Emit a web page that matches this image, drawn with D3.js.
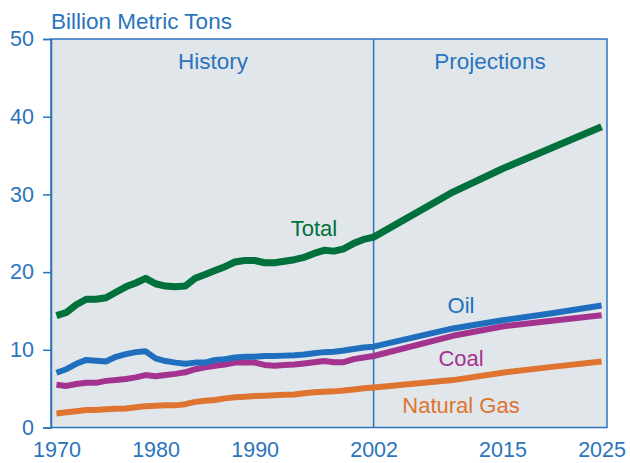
<!DOCTYPE html>
<html>
<head>
<meta charset="utf-8">
<script src="https://cdn.jsdelivr.net/npm/d3@7"></script>
<style>
  body { margin: 0; background: #fff; }
  text { font-family: "Liberation Sans", Arial, sans-serif; }
</style>
</head>
<body>
<script>
var years = [1970,1971,1972,1973,1974,1975,1976,1977,1978,1979,1980,1981,1982,1983,1984,1985,
             1986,1987,1988,1989,1990,1991,1992,1993,1994,1995,1996,1997,1998,1999,2000,2001,2002,
             2010,2015,2020,2025];

var total = [14.4,14.8,15.8,16.5,16.5,16.7,17.4,18.1,18.6,19.2,18.5,18.2,18.1,18.2,19.2,19.7,
             20.2,20.7,21.3,21.5,21.5,21.2,21.2,21.4,21.6,21.9,22.4,22.8,22.7,23.0,23.7,24.2,24.5,
             30.3,33.3,36.0,38.7];
var oil   = [7.05,7.5,8.2,8.7,8.6,8.5,9.1,9.45,9.7,9.8,8.9,8.55,8.35,8.2,8.35,8.35,
             8.7,8.8,9.0,9.1,9.1,9.2,9.2,9.25,9.3,9.4,9.55,9.7,9.75,9.9,10.1,10.3,10.4,
             12.75,13.8,14.7,15.7];
var coal  = [5.5,5.35,5.6,5.75,5.75,6.0,6.1,6.25,6.45,6.75,6.6,6.75,6.9,7.1,7.5,7.75,
             7.95,8.1,8.35,8.4,8.35,8.05,7.95,8.05,8.1,8.25,8.4,8.55,8.4,8.4,8.8,9.0,9.2,
             11.8,13.0,13.75,14.45];
var gas   = [1.8,1.95,2.1,2.25,2.25,2.35,2.4,2.45,2.6,2.75,2.8,2.85,2.85,3.0,3.3,3.45,
             3.55,3.75,3.9,3.95,4.05,4.1,4.15,4.2,4.25,4.4,4.55,4.6,4.65,4.75,4.9,5.05,5.15,
             6.1,7.05,7.8,8.5];

var xTicks = [1970,1980,1990,2002,2015,2025];
var yTicks = [0,10,20,30,40,50];
var splitYear = 2002;

var w = 630, h = 463;
var pLeft = 51, pRight = 607, pTop = 39, pBottom = 427.5;
var textBlue = "#2a74bd";

var x = d3.scaleLinear().domain([1969.45, 2025.55]).range([pLeft, pRight]);
var y = d3.scaleLinear().domain([0, 50]).range([pBottom, pTop]);

var svg = d3.select("body").append("svg")
    .attr("width", w)
    .attr("height", h);

svg.append("rect")
    .attr("x", pLeft).attr("y", pTop)
    .attr("width", pRight - pLeft).attr("height", pBottom - pTop)
    .attr("fill", "#e1e6eb")
    .attr("stroke", "#2a74bd")
    .attr("stroke-width", 1.5);

// divider between history and projections
svg.append("line")
    .attr("x1", x(splitYear)).attr("x2", x(splitYear))
    .attr("y1", pTop).attr("y2", pBottom)
    .attr("stroke", "#2a74bd")
    .attr("stroke-width", 1.5);

// y axis
var yAxis = svg.append("g")
    .attr("transform", "translate(" + pLeft + ",0)")
    .call(d3.axisLeft(y).tickValues(yTicks).tickSize(8).tickPadding(9));
yAxis.select(".domain").attr("stroke", "#2a74bd").attr("stroke-width", 1.5);
yAxis.selectAll(".tick line").attr("stroke", "#2a74bd").attr("stroke-width", 1.5);
yAxis.selectAll(".tick text")
    .attr("fill", textBlue)
    .style("font-size", "21.5px")
    .style("font-family", "Liberation Sans, Arial, sans-serif");

// x axis
var xAxis = svg.append("g")
    .attr("transform", "translate(0," + pBottom + ")")
    .call(d3.axisBottom(x).tickValues(xTicks).tickSize(0).tickPadding(14).tickFormat(d3.format("d")));
xAxis.select(".domain").remove();
xAxis.selectAll(".tick text")
    .attr("fill", textBlue)
    .style("font-size", "21.5px")
    .style("font-family", "Liberation Sans, Arial, sans-serif");

var series = [
  {name: "Natural Gas", values: gas, color: "#df7430"},
  {name: "Coal", values: coal, color: "#a3338f"},
  {name: "Oil", values: oil, color: "#1f6fbe"},
  {name: "Total", values: total, color: "#00703c"}
];

var line = d3.line()
    .x(function(d, i){ return x(years[i]); })
    .y(function(d){ return y(d); });

svg.selectAll("path.series")
    .data(series)
    .enter()
    .append("path")
    .attr("class", "series")
    .attr("d", function(d){ return line(d.values); })
    .attr("fill", "none")
    .attr("stroke", function(d){ return d.color; })
    .attr("stroke-width", function(d){ return d.name == "Total" ? 7 : 6; })
    .attr("stroke-linejoin", "round");

var labels = [
  {text: "Total", x: 314, y: 236, color: "#00703c"},
  {text: "Oil", x: 461, y: 313, color: "#1f6fbe"},
  {text: "Coal", x: 461, y: 366, color: "#a3338f"},
  {text: "Natural Gas", x: 461, y: 413, color: "#df7430"},
  {text: "History", x: 213, y: 69, color: textBlue},
  {text: "Projections", x: 490, y: 69, color: textBlue}
];

svg.selectAll("text.lbl")
    .data(labels)
    .enter()
    .append("text")
    .attr("class", "lbl")
    .attr("x", function(d){ return d.x; })
    .attr("y", function(d){ return d.y; })
    .attr("text-anchor", "middle")
    .attr("fill", function(d){ return d.color; })
    .style("font-size", function(d){ return (d.text == "History" || d.text == "Projections") ? "22.5px" : "22px"; })
    .text(function(d){ return d.text; });

svg.append("text")
    .attr("x", 51)
    .attr("y", 29)
    .attr("fill", textBlue)
    .style("font-size", "22.5px")
    .text("Billion Metric Tons");
</script>
</body>
</html>
